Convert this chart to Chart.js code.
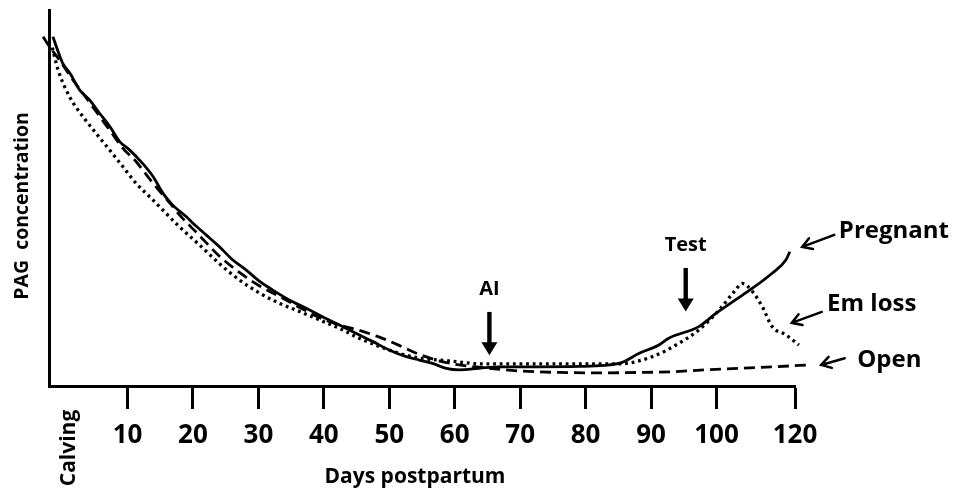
<!DOCTYPE html>
<html>
<head>
<meta charset="utf-8">
<script src="https://cdn.jsdelivr.net/npm/chart.js@4.4.1/dist/chart.umd.min.js"></script>
<style>
  html, body { margin: 0; padding: 0; background: #fff; }
  #wrap { width: 953px; height: 491px; }
</style>
</head>
<body>
<div id="wrap"><canvas id="c" width="953" height="491"></canvas></div>
<script>
// ---- Data (x = position on the drawn day axis, y = relative PAG concentration) ----
const seriesNames = ['Pregnant', 'Em loss', 'Open'];

const pregnantDays = [-1.4, -0.6, 0.1, 1.2, 2.7, 4.2, 5.7, 7.3, 8.8, 10.3, 12.3, 13.9, 15.4, 16.9, 19.0, 20.0, 22.0, 24.0, 26.1, 28.1, 30.2, 32.2, 34.7, 37.3, 39.8, 42.4, 44.9, 47.5, 50.0, 52.6, 54.6, 56.6, 58.7, 60.7, 63.7, 66.8, 72.9, 79.0, 85.1, 88.2, 91.2, 92.7, 97.3, 99.9, 102.9, 105.5, 108.5, 110.6, 111.2];
const pregnantValues = [92.9, 88.9, 85.8, 83.2, 78.7, 76.1, 72.6, 69.0, 65.0, 62.8, 59.2, 55.7, 51.3, 48.1, 45.0, 43.3, 40.2, 37.1, 33.5, 30.9, 27.8, 25.5, 22.9, 20.7, 18.4, 16.2, 14.0, 11.8, 9.6, 7.8, 6.9, 6.0, 4.7, 4.3, 4.7, 5.1, 5.1, 5.2, 6.0, 8.7, 10.9, 12.7, 15.8, 19.3, 22.9, 26.0, 30.0, 33.5, 35.7];

const emLossDays = [-1.5, -0.6, 1.15, 3.2, 5.2, 7.25, 9.3, 11.3, 13.4, 15.4, 17.9, 21.0, 24.0, 27.1, 30.2, 33.2, 36.3, 39.3, 42.4, 45.4, 48.5, 51.5, 54.6, 57.6, 60.7, 63.7, 69.9, 79.0, 85.1, 90.2, 94.3, 97.3, 100.4, 102.9, 103.9, 105.5, 107.0, 108.5, 110.6, 112.6];
const emLossValues = [90.0, 84.0, 76.9, 71.6, 67.2, 62.8, 58.3, 53.9, 50.3, 46.8, 42.4, 37.5, 32.6, 28.2, 24.7, 22.0, 19.8, 17.6, 15.3, 12.7, 10.5, 8.7, 7.4, 6.9, 6.4, 5.9, 5.9, 5.9, 5.9, 7.8, 11.4, 14.9, 20.2, 25.5, 27.3, 25.1, 21.1, 15.8, 13.6, 10.9];

const openDays = [-2.9, -1.9, -0.4, 1.65, 3.2, 5.2, 7.25, 9.3, 11.3, 13.4, 15.4, 16.9, 17.9, 21.0, 24.0, 27.1, 30.2, 33.2, 36.3, 39.3, 42.4, 45.4, 48.5, 51.5, 54.6, 57.6, 60.7, 63.7, 69.9, 76.0, 82.1, 88.2, 93.2, 98.4, 103.4, 108.5, 114.1];
const openValues = [92.9, 90.2, 86.7, 81.4, 77.8, 73.0, 68.1, 63.2, 59.7, 55.0, 50.8, 47.8, 45.6, 40.0, 34.6, 30.2, 26.6, 23.8, 20.9, 18.2, 16.2, 14.8, 13.0, 10.8, 8.4, 6.7, 5.6, 5.0, 4.0, 3.6, 3.5, 3.6, 3.8, 4.3, 4.7, 5.1, 5.6];

// Axis ticks as drawn in the original figure (the last tick is labelled 120)
const tickDays = [10, 20, 30, 40, 50, 60, 70, 80, 90, 100, 112];
const tickLabels = ['10', '20', '30', '40', '50', '60', '70', '80', '90', '100', '120'];

// Event markers
const markerLabels = ['AI', 'Test'];
const markerDays = [65.3, 95.3];

const toPoints = (xs, ys) => xs.map((x, i) => ({ x: x, y: ys[i] }));

const FONT = '"Open Sans", "Liberation Sans", sans-serif';

function openArrow(ctx, x1, y1, x2, y2) {
  const a = Math.atan2(y2 - y1, x2 - x1);
  const len = 11, spread = 0.55;
  ctx.beginPath();
  ctx.moveTo(x1, y1);
  ctx.lineTo(x2, y2);
  ctx.moveTo(x2 - len * Math.cos(a - spread), y2 - len * Math.sin(a - spread));
  ctx.lineTo(x2, y2);
  ctx.lineTo(x2 - len * Math.cos(a + spread), y2 - len * Math.sin(a + spread));
  ctx.stroke();
}

function blockArrow(ctx, x, yTop, yTip) {
  const head = 13, half = 8, shaft = 2.2;
  ctx.beginPath();
  ctx.rect(x - shaft, yTop, shaft * 2, (yTip - head) - yTop + 1);
  ctx.fill();
  ctx.beginPath();
  ctx.moveTo(x - half, yTip - head);
  ctx.lineTo(x + half, yTip - head);
  ctx.lineTo(x, yTip);
  ctx.closePath();
  ctx.fill();
}

const annotations = {
  id: 'annotations',
  afterDraw(chart) {
    const ctx = chart.ctx;
    const xs = chart.scales.x, ys = chart.scales.y;
    const X = v => xs.getPixelForValue(v);
    const Y = v => ys.getPixelForValue(v);
    ctx.save();
    ctx.fillStyle = '#000';
    ctx.strokeStyle = '#000';

    // Axis titles
    ctx.textAlign = 'center';
    ctx.textBaseline = 'middle';
    ctx.font = 'bold 21px ' + FONT;
    ctx.fillText('Days postpartum', 415, 477);

    ctx.save();
    ctx.translate(22, 206);
    ctx.rotate(-Math.PI / 2);
    ctx.font = 'bold 19.5px ' + FONT;
    ctx.fillText('PAG  concentration', 0, 0);
    ctx.restore();

    ctx.save();
    ctx.translate(X(1.1), 448);
    ctx.rotate(-Math.PI / 2);
    ctx.font = 'bold 21px ' + FONT;
    ctx.fillText('Calving', 0, 0);
    ctx.restore();

    // Event markers (AI, Test)
    const markerText = [25.7, 37.5];
    const markerTop = [19.7, 31.4];
    const markerTip = [8.2, 19.8];
    ctx.font = 'bold 20px ' + FONT;
    markerLabels.forEach((lab, i) => {
      const px = X(markerDays[i]);
      ctx.fillText(lab, px, Y(markerText[i]));
      blockArrow(ctx, px, Y(markerTop[i]), Y(markerTip[i]));
    });

    // Series labels with arrows
    const labelX = [118.7, 116.9, 121.5];
    const labelY = [41.2, 21.8, 6.9];
    const arrFrom = [[118.0, 40.2], [116.1, 19.7], [119.6, 7.4]];
    const arrTo = [[113.1, 37.0], [111.5, 16.8], [116.0, 5.6]];
    ctx.textAlign = 'left';
    ctx.font = 'bold 24px ' + FONT;
    ctx.lineWidth = 2.5;
    ctx.lineCap = 'round';
    seriesNames.forEach((name, i) => {
      ctx.fillText(name, X(labelX[i]), Y(labelY[i]));
      openArrow(ctx, X(arrFrom[i][0]), Y(arrFrom[i][1]), X(arrTo[i][0]), Y(arrTo[i][1]));
    });
    ctx.restore();
  }
};

new Chart(document.getElementById('c'), {
  type: 'line',
  data: {
    datasets: [
      {
        label: seriesNames[0],
        data: toPoints(pregnantDays, pregnantValues),
        borderColor: '#000', borderWidth: 2.8, pointRadius: 0,
        cubicInterpolationMode: 'monotone', clip: false, fill: false
      },
      {
        label: seriesNames[1],
        data: toPoints(emLossDays, emLossValues),
        borderColor: '#000', borderWidth: 3.3, borderDash: [2.8, 3.8], pointRadius: 0,
        cubicInterpolationMode: 'monotone', clip: false, fill: false
      },
      {
        label: seriesNames[2],
        data: toPoints(openDays, openValues),
        borderColor: '#000', borderWidth: 2.8, borderDash: [11, 6], pointRadius: 0,
        cubicInterpolationMode: 'monotone', clip: false, fill: false
      }
    ]
  },
  options: {
    responsive: false,
    animation: false,
    devicePixelRatio: 1,
    layout: { padding: { left: 0, top: 10, right: 158, bottom: 0 } },
    plugins: { legend: { display: false }, tooltip: { enabled: false } },
    scales: {
      x: {
        type: 'linear',
        min: -2,
        max: 112,
        afterBuildTicks: scale => { scale.ticks = tickDays.map(v => ({ value: v })); },
        afterFit: scale => { scale.height = 105; },
        ticks: {
          autoSkip: false,
          maxRotation: 0,
          padding: 11,
          color: '#000',
          font: { family: FONT, weight: 'bold', size: 26 },
          callback: value => tickLabels[tickDays.indexOf(value)]
        },
        grid: { drawOnChartArea: false, drawTicks: true, tickLength: 23, tickWidth: 3, tickColor: '#000' },
        border: { display: true, width: 3, color: '#000' }
      },
      y: {
        min: 0,
        max: 100,
        afterFit: scale => { scale.width = 49; },
        ticks: { display: false },
        grid: { drawOnChartArea: false, drawTicks: false },
        border: { display: true, width: 3, color: '#000' }
      }
    }
  },
  plugins: [annotations]
});
</script>
</body>
</html>
